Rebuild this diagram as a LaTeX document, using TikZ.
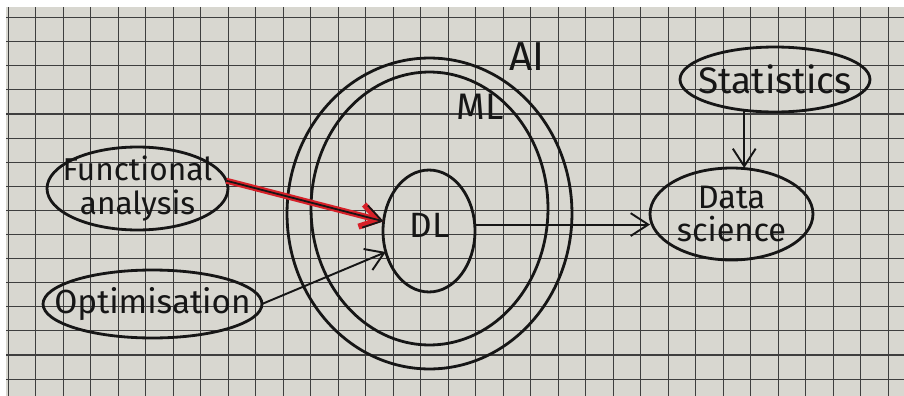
\documentclass[tikz,border=0pt]{standalone}
\usepackage{fontspec}
\setmainfont{Fira Sans}
\usetikzlibrary{shapes.geometric,arrows.meta}
\definecolor{paper}{RGB}{216,215,208}
\definecolor{gridc}{RGB}{62,62,62}
\definecolor{ink}{RGB}{22,22,22}
\definecolor{redink}{RGB}{215,32,40}
\tikzset{
  gridline/.style={draw=gridc, line width=0.6pt},
  blob/.style={ellipse, draw=ink, line width=1.6pt, inner sep=0pt, outer sep=0pt},
  lbl/.style={text=ink, inner sep=0pt, align=center},
  conn/.style={draw=ink, line width=1.1pt, -{Straight Barb[length=10pt,width=13pt]}},
  redconn/.style={draw=redink, line width=3.4pt, -{Straight Barb[length=10pt,width=13pt]}}
}
\begin{document}
\begin{tikzpicture}[x=0.02cm,y=-0.02cm]
\useasboundingbox (0,0) rectangle (904,396);
\fill[white] (0,0) rectangle (904,396);
\fill[paper] (6,7) rectangle (904,396);
\foreach \k in {0,...,15} \draw[gridline] (6,{17.6+24.1*\k}) -- (904,{17.6+24.1*\k});
\foreach \k in {0,...,32} \draw[gridline] ({8.3+27.5*\k},7) -- ({8.3+27.5*\k},396);

% nested sets
\node[blob, minimum width=5.7cm, minimum height=6.22cm] (ai) at (429.5,213.5) {};
\node[blob, minimum width=4.74cm, minimum height=5.46cm] (ml) at (429.5,208.5) {};
\node[blob, minimum width=1.84cm, minimum height=2.44cm] (dl) at (429,231) {};
\node[lbl, font=\fontsize{23}{23}\selectfont] (ailbl) at (527,57) {AI};
\node[lbl, font=\fontsize{21}{21}\selectfont] (mllbl) at (480,107) {ML};
\node[lbl, font=\fontsize{20}{20}\selectfont] (dllbl) at (430,225) {DL};

% side nodes
\node[blob, minimum width=3.62cm, minimum height=1.66cm,
  label={[lbl, font=\fontsize{18}{19}\selectfont]center:{Functional\\analysis}}] (fa) at (137.5,188.5) {};
\node[blob, minimum width=4.38cm, minimum height=1.36cm,
  label={[lbl, font=\fontsize{19}{19}\selectfont]center:Optimisation}] (opt) at (152.5,304) {};
\node[blob, minimum width=3.8cm, minimum height=1.3cm,
  label={[lbl, font=\fontsize{21}{21}\selectfont]center:Statistics}] (st) at (775,79.5) {};
\node[blob, minimum width=3.26cm, minimum height=1.84cm,
  label={[lbl, font=\fontsize{18.5}{19}\selectfont]center:{Data\\science}}] (ds) at (731.5,214) {};

% connectors
\draw[redconn] (fa.5) -- (dl.168);
\draw[conn, line width=1pt] (fa.5) -- (dl.168);
\draw[conn] (opt.east) -- (dl.206);
\draw[conn] (dl.8) -- (ds.west |- dl.8);
\draw[conn] (st.225) -- (st.225 |- ds.north);
\end{tikzpicture}
\end{document}
